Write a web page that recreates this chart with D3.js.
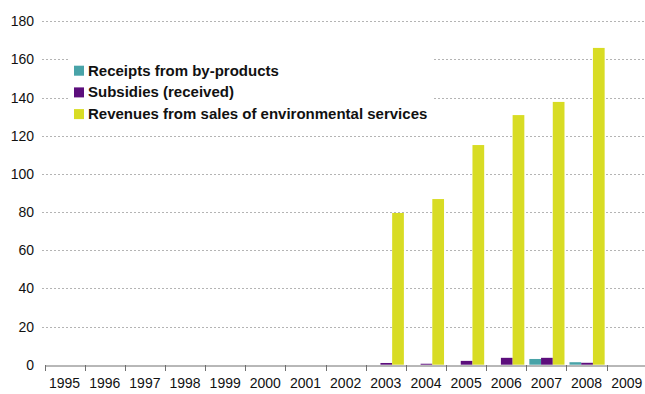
<!DOCTYPE html>
<html><head><meta charset="utf-8">
<script src="https://cdn.jsdelivr.net/npm/d3@7"></script>
<style>body{margin:0;background:#fff}svg{display:block}</style>
</head><body><svg id="c" width="645" height="394"></svg>
<script>
const years = ["1995","1996","1997","1998","1999","2000","2001","2002","2003","2004","2005","2006","2007","2008","2009"];
const seriesNames = ["Receipts from by-products","Subsidies (received)","Revenues from sales of environmental services"];
const receipts  = [0,0,0,0,0,0,0,0,0,0,0,0,3.0,1.3,0];
const subsidies = [0,0,0,0,0,0,0,0,0.9,0.5,2.0,3.6,3.6,1.0,0];
const revenues  = [0,0,0,0,0,0,0,0,79.5,86.8,115.1,130.8,137.7,166.0,0];
const yTicks = [0,20,40,60,80,100,120,140,160,180];
const colors = ["#48a3a8","#5c0e7c","#d8dc24"];

const svg = d3.select("#c");
const x = d3.scaleBand().domain(years).range([44.5, 646.8]).paddingInner(0).paddingOuter(0);
const inner = d3.scaleBand().domain([0,1,2]).range([3, x.bandwidth()-2]);
const y = d3.scaleLinear().domain([0,180]).range([364.7, 21.2]);
const font = "'Liberation Sans', Arial, sans-serif";

// gridlines
svg.append("g").selectAll("line").data(yTicks.filter(d=>d>0)).join("line")
  .attr("x1", 42).attr("x2", 645)
  .attr("y1", d=>Math.round(y(d))+0.5).attr("y2", d=>Math.round(y(d))+0.5)
  .attr("stroke","#b4b4b4").attr("stroke-width",1).attr("stroke-dasharray","2,2");

// y labels
svg.append("g").selectAll("text").data(yTicks).join("text")
  .attr("x", 34).attr("y", d=>y(d)+5)
  .attr("text-anchor","end").attr("font-family",font).attr("font-size",14).attr("fill","#111")
  .text(d=>d);

// bars
const data = [receipts, subsidies, revenues];
data.forEach((arr, si) => {
  svg.append("g").selectAll("rect").data(arr.map((v,i)=>({v, yr: years[i]})).filter(d=>d.v>0)).join("rect")
    .attr("x", d=>x(d.yr)+inner(si))
    .attr("width", inner.bandwidth())
    .attr("y", d=>y(d.v))
    .attr("height", d=>y(0)-y(d.v))
    .attr("fill", colors[si]);
});

// x axis
const xAxis = d3.axisBottom(x).tickSize(0).tickPadding(13);
const gx = svg.append("g").attr("transform",`translate(0,${Math.round(y(0))+0.5})`).call(xAxis);
gx.select(".domain").attr("stroke","#707070");
gx.selectAll("text").attr("font-family",font).attr("font-size",14).attr("fill","#111");
// boundary ticks
svg.append("g").selectAll("line").data(years.map(d=>x(d))).join("line")
  .attr("x1", d=>Math.round(d)+0.5).attr("x2", d=>Math.round(d)+0.5)
  .attr("y1", Math.round(y(0))).attr("y2", Math.round(y(0))+6)
  .attr("stroke","#707070");

// legend
const lg = svg.append("g");
lg.append("rect").attr("x",70).attr("y",56).attr("width",364).attr("height",68).attr("fill","#fff");
seriesNames.forEach((n,i)=>{
  const cy = 70.7 + i*21.7;
  lg.append("rect").attr("x",74).attr("y",cy-5).attr("width",10).attr("height",10).attr("fill",colors[i]);
  lg.append("text").attr("x",88).attr("y",cy+5).attr("font-family",font).attr("font-weight","bold")
    .attr("font-size",15).attr("fill","#111").text(n);
});
</script></body></html>
